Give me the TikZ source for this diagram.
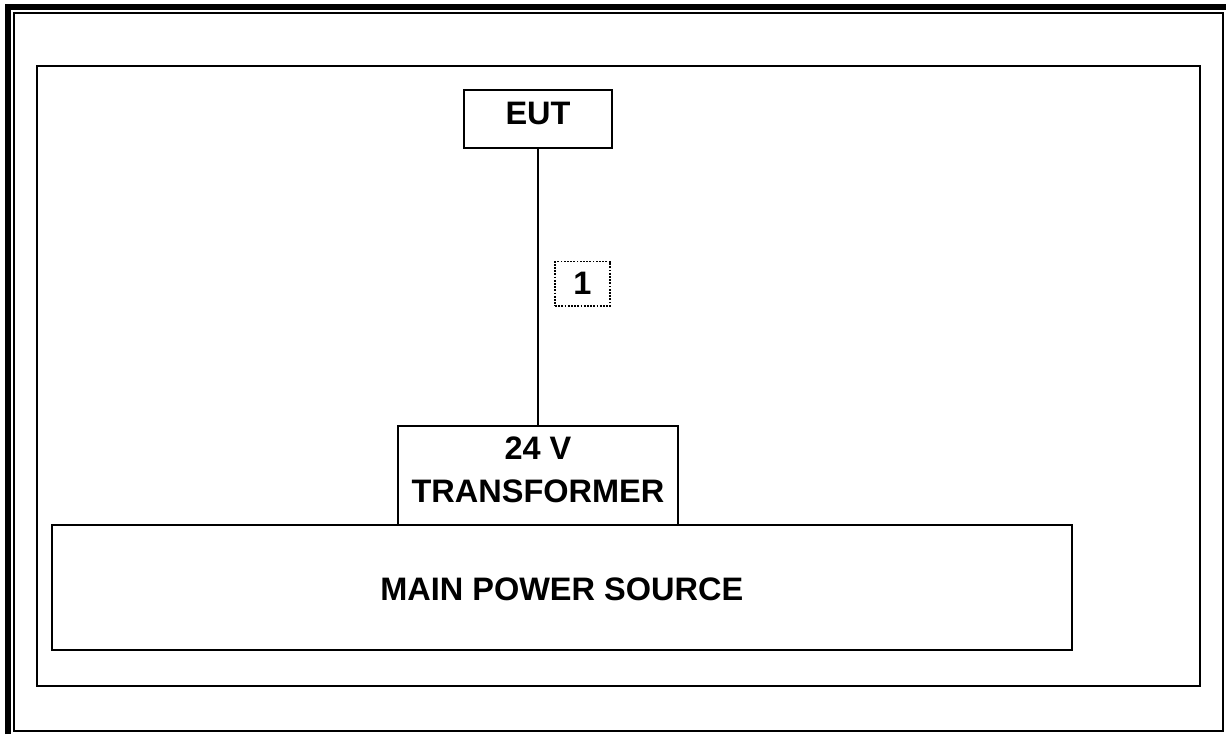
\documentclass[tikz,border=0pt]{standalone}
\usepackage{fontspec}
\setmainfont{Liberation Sans}
\begin{document}
\begin{tikzpicture}[x=1pt,y=-1pt,
        block/.style={draw,line width=2pt,inner sep=0pt,font=\bfseries\fontsize{32.5}{43}\selectfont,align=center},
        tag/.style={draw,line width=1.8pt,dash pattern=on 1.8pt off 1.4pt,inner sep=0pt,font=\bfseries\fontsize{32.5}{43}\selectfont}]
        \useasboundingbox (0,0) rectangle (1226,734);

        % Marco exterior
        \draw[line width=6pt] (7.5,734) |- (1226,7);
        \draw[line width=2pt] (13.5,13) rectangle (1223,731);

        % Marco interior
        \draw[line width=1.8pt] (37,66) rectangle (1200,686);

        % Bloques
        \node[block,minimum width=1020.5pt,minimum height=125pt,text height=26pt] (mps) at (561.75,587.5) {MAIN POWER SOURCE};
        \node[block,minimum width=280pt,minimum height=99pt,text depth=11pt] (trafo) at (538,475.5) {24 V\\TRANSFORMER};
        \node[block,minimum width=148pt,minimum height=57.5pt,text depth=12pt] (eut) at (538,119) {EUT};

        % Cable
        \draw[line width=2pt] (eut) -- (trafo);
        \node[tag,minimum width=55pt,minimum height=44.5pt] (c1) at (582.5,283.75) {1};
    \end{tikzpicture}
\end{document}
